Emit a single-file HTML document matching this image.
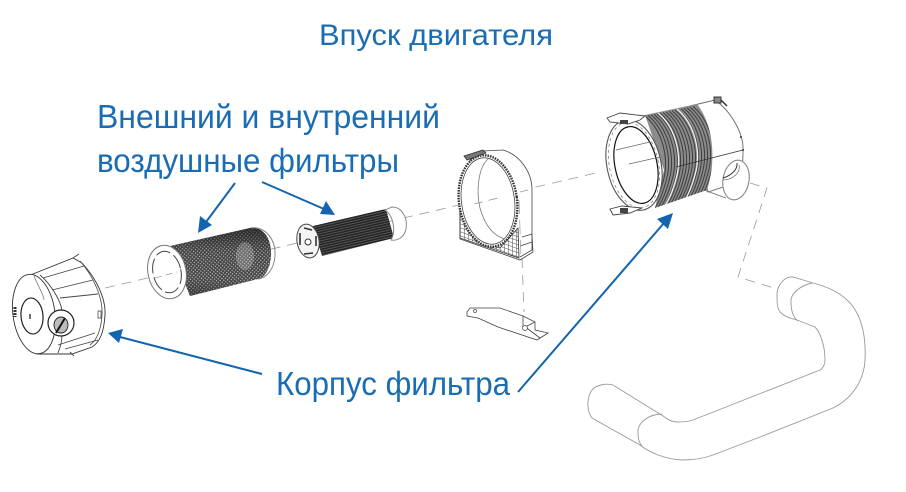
<!DOCTYPE html>
<html><head><meta charset="utf-8"><style>
html,body{margin:0;padding:0;background:#fff;width:906px;height:492px;overflow:hidden}
svg{display:block}
text{font-family:"Liberation Sans","Noto Sans CJK SC",sans-serif;fill:#1a6cb3}
</style></head><body>
<svg width="906" height="492" viewBox="0 0 906 492" xmlns="http://www.w3.org/2000/svg">
<defs>
<pattern id="mesh" width="2.6" height="2.6" patternUnits="userSpaceOnUse" patternTransform="rotate(40)">
<rect width="2.6" height="2.6" fill="#505050"/><rect width="1.1" height="1.1" fill="#e4e4e4"/>
</pattern>
<linearGradient id="meshShade" x1="0" y1="0" x2="0" y2="1">
<stop offset="0" stop-color="#111" stop-opacity=".65"/><stop offset=".35" stop-color="#111" stop-opacity=".15"/><stop offset=".75" stop-color="#111" stop-opacity=".1"/><stop offset="1" stop-color="#111" stop-opacity=".4"/>
</linearGradient>
<pattern id="mesh2" width="2" height="2.4" patternUnits="userSpaceOnUse" patternTransform="rotate(-13)">
<rect width="2" height="2.4" fill="#222"/><rect y="1.7" width="2" height=".6" fill="#777"/>
</pattern>
<pattern id="grid" width="4" height="4" patternUnits="userSpaceOnUse" patternTransform="skewY(20)">
<rect width="4" height="4" fill="#fff"/><path d="M0 0H4M0 0V4" stroke="#444" stroke-width=".9"/>
</pattern>
<clipPath id="ribclip"><path d="M645 115L697 104C708 118 714 140 712 165C711 175 709 184 707 190L655 208L664 170Z"/></clipPath>
<path id="rib" d="M645 116C662 130 670 158 663 182C660 193 656 203 651 210" fill="none"/>
</defs>

<!-- dashed axes -->
<g fill="none" stroke="#999" stroke-width=".8" stroke-dasharray="10 7">
<path d="M105 288L600 172"/>
<path d="M522 258L524 312"/>
<path d="M750 183L767 188L738 277L777 289"/>
</g>

<!-- housing left -->
<g fill="#fff" stroke="#333" stroke-width=".9">
<path d="M28 276L73 258L82 263C96 278 106 298 105 315C104 332 100 342 92 347L72 354L37 354Z"/>
<path d="M80 261C94 277 103 298 102 315C101 330 97 340 90 345" fill="none" stroke="#555"/>
<path d="M43 278L84 266M52 290L93 280M60 298L98 294M58 345L95 333M65 349L98 340M73 258L79 254M70 352L74 356" fill="none" stroke="#444"/>
<path d="M40 275C54 287 62 305 62 312M62 335C62 342 60 348 58 353" fill="none" stroke="#444"/>
<ellipse cx="34" cy="314" rx="21" ry="40" transform="rotate(-8 34 314)"/>
<path d="M34 276C40 290 44 296 44 300" fill="none" stroke="#666" stroke-width=".7"/>
<ellipse cx="32" cy="316" rx="11" ry="18" transform="rotate(-5 32 316)" stroke="#222" stroke-width="1.2"/>
<ellipse cx="61" cy="323" rx="13" ry="13" stroke="#222" stroke-width="1.2"/>
<ellipse cx="61" cy="325" rx="7" ry="8" stroke="#222" fill="#bbb"/>
<path d="M56 333L65 318" stroke="#111" stroke-width="2"/>
<path d="M98 311h3v7h-3z" stroke-width=".7"/>
</g>
<path d="M30 314v5" stroke="#222" stroke-width="1.3"/>
<path d="M15 307v10" stroke="#333" stroke-width="3" stroke-dasharray="2 1"/>

<!-- outer filter -->
<path d="M170 246L250 228C264 226 272 240 271 256C270 270 264 278 258 279L190 296Z" fill="url(#mesh)"/>
<path d="M170 246L250 228C264 226 272 240 271 256C270 270 264 278 258 279L190 296Z" fill="url(#meshShade)"/>
<ellipse cx="245" cy="256" rx="9" ry="14" fill="#fff" opacity=".22"/>
<path d="M250 228C266 226 276 240 275 256C274 270 266 278 258 279" fill="none" stroke="#888" stroke-width="1"/>
<ellipse cx="167" cy="272" rx="19" ry="27" transform="rotate(-12 167 272)" fill="#fff" stroke="#777"/>
<ellipse cx="167" cy="272" rx="14" ry="21" transform="rotate(-12 167 272)" fill="#fff" stroke="#444" stroke-dasharray="15 4"/>
<path d="M155 278L177 272" stroke="#999" stroke-width=".7" stroke-dasharray="7 4"/>

<!-- inner filter -->
<path d="M313 226L386 209L394 238L322 256Z" fill="url(#mesh2)"/>
<path d="M385 210L392 207C402 207 408 218 406 229C404 238 397 241 391 240C396 232 394 216 385 210Z" fill="#fff" stroke="#888"/>
<ellipse cx="308" cy="241" rx="11" ry="17" transform="rotate(-10 308 241)" fill="#f4f4f4" stroke="#444"/>
<circle cx="308" cy="242" r="3" fill="#fff" stroke="#333"/>
<path d="M300 233v12M304 228l8 2M304 254l9-1M316 236v10" stroke="#333" stroke-width="1.6" fill="none"/>

<!-- bracket -->
<g fill="#fff" stroke="#444" stroke-width=".8">
<path d="M483 151L503 150C520 155 532 172 532 190L532 235L533 252L520 260L460 239V212L470 160Z"/>
<path d="M460 210L460 238L519 258L518 228L500 248L475 240Z" fill="url(#grid)" stroke="#333"/>
<path d="M522 237L532 234V250L520 257M520 246L532 242" fill="none"/>
<ellipse cx="488" cy="201" rx="29" ry="46" transform="rotate(-8 488 201)" stroke="#333" stroke-width="2.4" stroke-dasharray="1.6 1"/>
<ellipse cx="488" cy="201" rx="26.5" ry="43.5" transform="rotate(-8 488 201)"/>
<path d="M488 159C478 168 476 192 480 208C485 226 494 236 505 239" fill="none" stroke="#777"/>
<path d="M464 156L483 150L486 153L467 160Z" fill="#777" stroke="#333"/>
</g>
<path d="M474 204L502 197M520 192L528 190" stroke="#999" stroke-width=".8" stroke-dasharray="9 6" fill="none"/>
<path d="M519 200L521 258" stroke="#999" stroke-width=".7" stroke-dasharray="14 6" fill="none"/>

<!-- plate -->
<path d="M467 312L470 308L500 308L523 316L535 322L535 330L548 333L537 340L498 327L478 318L467 316Z" fill="#fff" stroke="#444" stroke-width=".8"/>
<path d="M523 316V328L535 322M524 326L540 338" fill="none" stroke="#444" stroke-width=".8"/>
<circle cx="475" cy="311" r="1.5" fill="none" stroke="#444" stroke-width=".7"/>
<circle cx="525" cy="328" r="2.5" fill="#fff" stroke="#444" stroke-width=".7"/>

<!-- big housing -->
<g>
<path d="M690 106L715 100C732 112 744 135 743 150C743 165 742 172 738 182L708 192Z" fill="#fff" stroke="#666" stroke-width=".9"/>
<circle cx="741" cy="137" r="1" fill="#333"/><circle cx="743" cy="150" r="1" fill="#333"/>
<path d="M714 97h7v6h-7z" fill="#888" stroke="#333"/>
<path d="M721 100L727 106" stroke="#333" stroke-width="1.5"/>
<g clip-path="url(#ribclip)">
<rect x="640" y="100" width="80" height="115" fill="#8b8b8b"/>
<g stroke="#3d3d3d" stroke-width="1">
<use href="#rib"/><use href="#rib" x="3" y="-.6"/><use href="#rib" x="6" y="-1.2"/><use href="#rib" x="9" y="-1.8"/><use href="#rib" x="12" y="-2.4"/><use href="#rib" x="15" y="-3"/><use href="#rib" x="18" y="-3.6"/><use href="#rib" x="21" y="-4.2"/><use href="#rib" x="24" y="-4.8"/><use href="#rib" x="27" y="-5.4"/><use href="#rib" x="30" y="-6"/><use href="#rib" x="33" y="-6.6"/><use href="#rib" x="36" y="-7.2"/><use href="#rib" x="39" y="-7.8"/><use href="#rib" x="42" y="-8.4"/><use href="#rib" x="45" y="-9"/><use href="#rib" x="48" y="-9.6"/>
</g>
<g stroke="#f2f2f2" stroke-width="1.3">
<use href="#rib" x="13" y="-3"/><use href="#rib" x="32" y="-7"/>
</g>
</g>
<path d="M676 167L743 150" fill="none" stroke="#333" stroke-width=".8"/>
<path d="M704 190L726 198" stroke="#666" stroke-width=".8"/>
<ellipse cx="736" cy="180" rx="13" ry="20" transform="rotate(10 736 180)" fill="#fff" stroke="#888" stroke-width="1.1"/>
<path d="M723 178C730 176 738 170 737 163" fill="none" stroke="#333"/>
<path d="M723 180C733 180 741 172 739 165" fill="none" stroke="#666" stroke-width=".7"/>
<ellipse cx="634" cy="165" rx="27" ry="46" transform="rotate(-12 634 165)" fill="#fff" stroke="#555" stroke-width="1.1"/>
<ellipse cx="636" cy="165" rx="21" ry="39" transform="rotate(-12 636 165)" fill="#fff" stroke="#111" stroke-width="1.2"/>
<ellipse cx="634" cy="165" rx="24.5" ry="43.5" transform="rotate(-12 634 165)" fill="none" stroke="#777" stroke-width=".7" stroke-dasharray="3 3"/>
<path d="M616 150L650 142M629 164L660 157" stroke="#666" stroke-width=".7" fill="none"/>
<path d="M607 118L620 113L645 116L640 120L628 124L610 122Z" fill="#fff" stroke="#444" stroke-width=".9"/>
<path d="M620 120h8v4h-8z" fill="#444"/>
<path d="M610 209L622 206L642 208L630 213L613 215Z" fill="#fff" stroke="#444" stroke-width=".9"/>
<path d="M620 208h8v5h-8z" fill="#444"/>
</g>

<!-- pipe -->
<g fill="none" stroke="#999" stroke-width=".9">
<path d="M613 385C606 383 596 385 592 390C587 397 586 410 592 418L640 445C650 453 665 459 682 460C695 460 705 458 713 455L760 437L833 408C853 398 864 380 865 360C866 340 863 325 857 313C848 296 832 288 813 283L793 277C785 276 778 284 777 293C777 303 777 308 780 312C785 317 790 318 797 320L815 327C820 332 825 345 825 360C825 365 823 368 820 370L693 420C688 422 682 422 677 422C672 422 668 420 663 416Z"/>
<path d="M662 414C650 414 637 422 638 433C638 440 640 444 642 446"/>
<path d="M812 283C802 285 790 293 791 302C791 312 794 318 798 321"/>
</g>

<!-- arrows -->
<g stroke="#1265ae" stroke-width="2" fill="#1265ae">
<path d="M235 183L206 222" fill="none"/><path d="M198 233L200 216L212 225Z" stroke="none"/>
<path d="M262 182L324 209" fill="none"/><path d="M335 215L320 214L326 201Z" stroke="none"/>
<path d="M262 374L120 337" fill="none"/><path d="M108 333L123 329L119 343Z" stroke="none"/>
<path d="M518 392L664 223" fill="none"/><path d="M673 213L668 229L657 219Z" stroke="none"/>
</g>

<!-- text -->
<text x="319" y="45" font-size="30" textLength="234" lengthAdjust="spacingAndGlyphs">Впуск двигателя</text>
<text x="97" y="128" font-size="33" textLength="343" lengthAdjust="spacingAndGlyphs">Внешний и внутренний</text>
<text x="97" y="172" font-size="33" textLength="302" lengthAdjust="spacingAndGlyphs">воздушные фильтры</text>
<text x="276" y="395" font-size="33" textLength="234" lengthAdjust="spacingAndGlyphs">Корпус фильтра</text>
</svg>
</body></html>
